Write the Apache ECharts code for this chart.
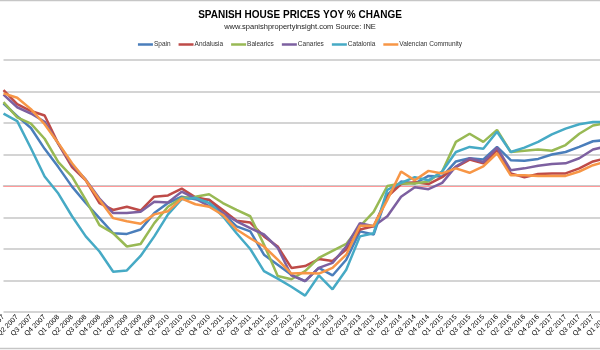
<!DOCTYPE html>
<html>
<head>
<meta charset="utf-8">
<script src="https://cdn.jsdelivr.net/npm/echarts@6/dist/echarts.min.js"></script>
<style>
html, body { margin: 0; padding: 0; background: #fff; }
#chart { width: 600px; height: 350px; }
</style>
</head>
<body>
<div id="chart"></div>
<script>
var quarters = ['Q1 2007','Q2 2007','Q3 2007','Q4 2007','Q1 2008','Q2 2008','Q3 2008','Q4 2008',
    'Q1 2009','Q2 2009','Q3 2009','Q4 2009','Q1 2010','Q2 2010','Q3 2010','Q4 2010',
    'Q1 2011','Q2 2011','Q3 2011','Q4 2011','Q1 2012','Q2 2012','Q3 2012','Q4 2012',
    'Q1 2013','Q2 2013','Q3 2013','Q4 2013','Q1 2014','Q2 2014','Q3 2014','Q4 2014',
    'Q1 2015','Q2 2015','Q3 2015','Q4 2015','Q1 2016','Q2 2016','Q3 2016','Q4 2016',
    'Q1 2017','Q2 2017','Q3 2017','Q4 2017','Q1 2018'];

var spain = [13.1, 11.1, 9.2, 5.9, 3.0, -0.1, -2.7, -5.1, -7.5, -7.6, -6.9, -4.3, -2.7, -1.7, -2.1,
    -2.2, -4.3, -6.4, -7.2, -10.9, -12.5, -14.1, -15.1, -13.0, -14.2, -11.7, -7.2, -7.7, -1.4,
    0.7, 0.4, 1.6, 1.5, 3.9, 4.4, 4.2, 6.2, 4.1, 4.0, 4.3, 5.0, 5.4, 6.2, 7.1, 7.3];
var andalusia = [15.2, 13.0, 11.9, 11.2, 6.7, 3.0, 0.9, -2.7, -3.8, -3.3, -3.9, -1.7, -1.5, -0.4, -1.8,
    -2.2, -3.8, -5.5, -5.8, -8.0, -9.6, -13.0, -12.7, -11.6, -11.9, -10.1, -6.9, -6.4, -1.7,
    0.3, 0.6, 0.3, 1.4, 3.0, 4.2, 3.6, 5.7, 2.0, 1.4, 1.9, 2.0, 2.0, 2.8, 3.9, 4.4];
var balearics = [13.3, 10.9, 9.9, 7.5, 3.8, 1.5, -2.2, -6.2, -7.5, -9.6, -9.2, -5.9, -3.3, -1.9, -1.7,
    -1.3, -2.7, -3.8, -4.8, -9.3, -14.3, -14.8, -13.5, -11.4, -10.3, -9.2, -6.4, -4.1, 0.0,
    0.4, 0.4, 0.7, 2.3, 7.0, 8.3, 7.0, 8.9, 5.4, 5.6, 5.8, 5.6, 6.5, 8.3, 9.6, 10.0];
var canaries = [14.5, 12.5, 11.5, 10.2, 6.7, 3.4, 1.0, -2.0, -4.3, -4.3, -4.1, -2.5, -2.6, -0.9, -2.0,
    -3.2, -4.3, -5.6, -6.7, -7.7, -9.8, -14.2, -15.1, -13.0, -12.2, -9.6, -5.9, -6.4, -4.8,
    -1.7, -0.2, -0.5, 0.5, 3.1, 4.4, 3.8, 6.1, 2.5, 2.8, 3.2, 3.5, 3.6, 4.4, 5.8, 6.3];
var catalonia = [11.5, 10.3, 6.0, 1.5, -1.2, -4.8, -8.0, -10.4, -13.6, -13.4, -11.1, -8.0, -4.5, -2.1, -1.9,
    -2.7, -4.8, -7.5, -10.0, -13.5, -14.7, -16.0, -17.4, -14.2, -16.4, -13.3, -8.0, -7.5, -0.6,
    0.5, 1.4, 0.9, 2.3, 5.4, 6.2, 5.9, 8.6, 5.4, 6.1, 7.0, 8.2, 9.1, 9.8, 10.15, 10.2];
var valencia = [14.7, 14.0, 12.2, 9.8, 6.8, 3.6, 0.9, -2.2, -5.1, -5.6, -6.0, -4.5, -4.0, -2.0, -2.9,
    -3.3, -4.6, -6.9, -8.3, -9.6, -11.7, -13.9, -13.8, -13.9, -13.0, -10.9, -6.3, -6.3, -2.2,
    2.3, 0.9, 2.4, 2.0, 2.8, 2.1, 3.1, 5.2, 1.7, 1.7, 1.6, 1.6, 1.6, 2.3, 3.3, 3.9];

var seriesNames = ['Spain', 'Andalusia', 'Balearics', 'Canaries', 'Catalonia', 'Valencian Community'];
var seriesData = [spain, andalusia, balearics, canaries, catalonia, valencia];
var colors = ['#4a7ebb', '#be4b48', '#98b954', '#7d60a0', '#46aac5', '#f79646'];

var font = '"Liberation Sans", sans-serif';

var myChart = echarts.init(document.getElementById('chart'));
var option = {
    backgroundColor: '#fff',
    color: colors,
    animation: false,
    textStyle: { fontFamily: font },
    title: [{
        text: 'SPANISH HOUSE PRICES YOY % CHANGE',
        left: 'center',
        top: 10,
        padding: 0,
        textStyle: { fontSize: 10, fontWeight: 'bold', color: '#000', fontFamily: font }
    }, {
        text: 'www.spanishpropertyinsight.com Source: INE',
        left: 'center',
        top: 23,
        padding: 0,
        textStyle: { fontSize: 7.5, fontWeight: 'normal', color: '#222', fontFamily: font }
    }],
    legend: {
        top: 41,
        left: 'center',
        padding: 0,
        icon: 'rect',
        itemWidth: 15,
        itemHeight: 2.5,
        itemGap: 8,
        textStyle: { fontSize: 6.5, color: '#333', fontFamily: font, padding: [0, 0, 0, -4] },
        data: seriesNames
    },
    grid: {
        left: 3.5,
        top: 60,
        width: 603.2,
        height: 252,
        outerBoundsMode: 'none'
    },
    graphic: [{
        type: 'line', shape: { x1: 0, y1: 0.5, x2: 600, y2: 0.5 },
        style: { stroke: '#c6c6c6', lineWidth: 1.5 }
    }, {
        type: 'line', shape: { x1: 0, y1: 348.5, x2: 600, y2: 348.5 },
        style: { stroke: '#c6c6c6', lineWidth: 1.5 }
    }],
    xAxis: {
        type: 'category',
        boundaryGap: false,
        data: quarters,
        axisLine: { lineStyle: { color: '#c6c6c6', width: 1.5 } },
        axisTick: { show: false },
        axisLabel: {
            interval: 0,
            rotate: 45,
            margin: 4,
            fontSize: 7,
            color: '#000',
            fontFamily: font
        }
    },
    yAxis: {
        type: 'value',
        min: -20,
        max: 20,
        interval: 5,
        axisLine: { show: false },
        axisTick: { show: false },
        axisLabel: { show: false },
        splitLine: { lineStyle: { color: '#c6c6c6', width: 1.5 } }
    },
    series: seriesNames.map(function (name, i) {
        var s = {
            name: name,
            type: 'line',
            data: seriesData[i],
            symbol: 'none',
            lineStyle: { width: 2.5 }
        };
        if (i === 0) {
            // pink zero line
            s.markLine = {
                silent: true,
                symbol: 'none',
                label: { show: false },
                lineStyle: { color: '#ff9a9a', width: 1, type: 'solid' },
                data: [{ yAxis: 0 }],
                z: 1
            };
        }
        return s;
    })
};
myChart.setOption(option);
</script>
</body>
</html>
